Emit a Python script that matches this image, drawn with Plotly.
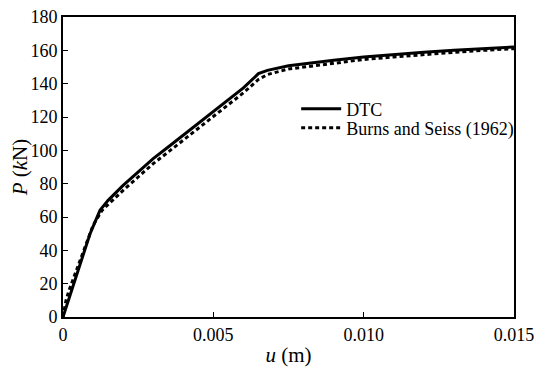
import plotly.graph_objects as go

dtc_u = [0, 0.0003, 0.0006, 0.0009, 0.00123, 0.0015, 0.002, 0.0025, 0.003, 0.0035, 0.004, 0.0045,
         0.005, 0.0055, 0.006, 0.0065, 0.0068, 0.0075, 0.008, 0.009, 0.010, 0.011, 0.012, 0.013, 0.014, 0.015]
dtc_p = [0, 17, 34, 50, 64, 70, 79, 87, 95, 102, 109, 116,
         123, 130, 137.5, 146, 148, 150.8, 152, 154, 156, 157.5, 158.8, 160, 161, 162]

bs_u = [0, 0.0001, 0.0002, 0.0005, 0.001, 0.0013, 0.0015, 0.002, 0.0025, 0.003, 0.0035, 0.004, 0.0045,
        0.005, 0.0055, 0.006, 0.0065, 0.0068, 0.0075, 0.008, 0.009, 0.010, 0.011, 0.012, 0.013, 0.014, 0.015]
bs_p = [0, 10, 16, 31, 55, 64, 67.5, 76, 84, 92, 99, 106, 113,
        120, 127, 134.5, 142.5, 145.5, 148.8, 150, 152.5, 154.5, 156, 157.5, 158.8, 160, 161]

x_ticks = [0, 0.005, 0.010, 0.015]
x_labels = ["0", "0.005", "0.010", "0.015"]
y_ticks = [0, 20, 40, 60, 80, 100, 120, 140, 160, 180]

fig = go.Figure()
fig.add_trace(go.Scatter(x=dtc_u, y=dtc_p, mode="lines", name="DTC", legend="legend",
                         line=dict(color="black", width=3)))
fig.add_trace(go.Scatter(x=bs_u, y=bs_p, mode="lines", name="Burns and Seiss (1962)", legend="legend2",
                         line=dict(color="black", width=3, dash="4px,3px")))

fam = "Liberation Serif"
font = dict(family=fam, size=18, color="black")
leg_common = dict(xanchor="left", yanchor="middle", bgcolor="rgba(0,0,0,0)",
                  font=font, itemwidth=40)
fig.update_layout(
    width=535, height=361,
    margin=dict(l=55, r=29, t=9, b=52),
    paper_bgcolor="white", plot_bgcolor="white",
    font=font,
    showlegend=True,
    legend=dict(x=0.517, y=0.693, **leg_common),
    legend2=dict(x=0.517, y=0.630, **leg_common),
    xaxis=dict(range=[0, 0.015], tickvals=x_ticks, ticktext=x_labels,
               ticks="inside", ticklen=5, tickcolor="black",
               showline=True, linecolor="black", linewidth=2, mirror=True,
               showgrid=False, zeroline=False, automargin=False,
               ticklabeloverflow="allow",
               title=dict(text="<i>u</i> (m)", font=dict(family=fam, size=21), standoff=4)),
    yaxis=dict(range=[0, 180], tickvals=y_ticks,
               ticks="inside", ticklen=5, tickcolor="black",
               showline=True, linecolor="black", linewidth=2, mirror=True,
               showgrid=False, zeroline=False, automargin=False,
               ticklabeloverflow="allow",
               title=dict(text="<i>P</i> (<i>k</i>N)", font=dict(family=fam, size=21), standoff=2)),
)
fig.write_html("out.html")
